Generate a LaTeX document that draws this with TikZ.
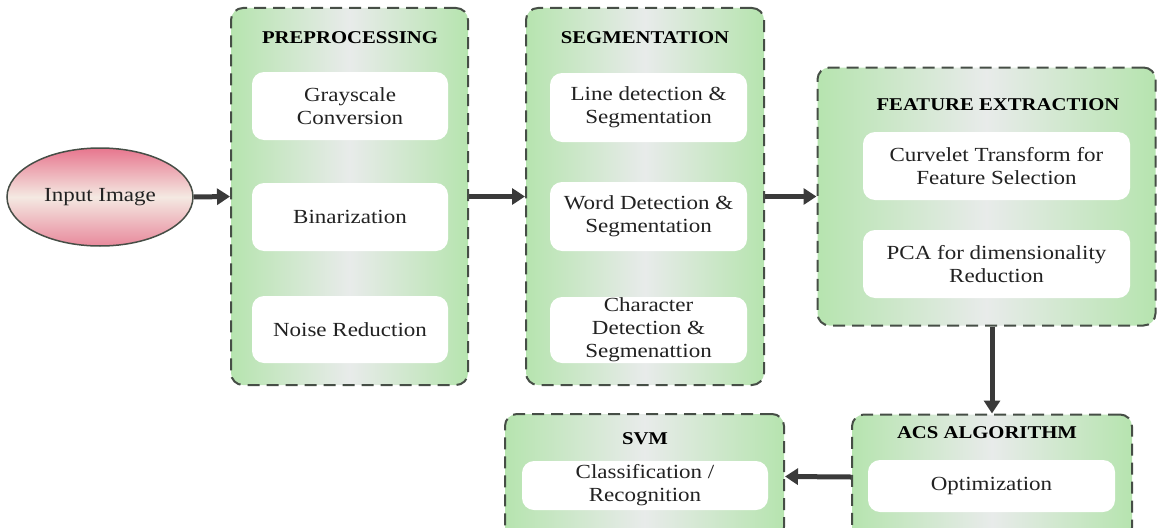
\documentclass[tikz,border=0pt]{standalone}
\usepackage{fontspec}
\setmainfont{Liberation Serif}
\newfontfamily\bodyfont{Liberation Serif}[FakeStretch=1.15]
\usetikzlibrary{arrows.meta,shapes.geometric}
\definecolor{gedge}{HTML}{B6E4AF}
\definecolor{gmid}{HTML}{E8EBEA}
\definecolor{bord}{HTML}{464E46}
\definecolor{arr}{HTML}{3A3A3A}
\definecolor{txt}{HTML}{222222}
\definecolor{pinktop}{HTML}{E7768E}
\definecolor{pinkmid}{HTML}{F4E9E2}
\definecolor{pinkbot}{HTML}{E8899C}
\tikzset{
  stage/.style={draw=bord, line width=2pt, dash pattern=on 12pt off 7pt,
    rounded corners=12pt, left color=gedge, right color=gedge, middle color=gmid,
    minimum width=#1, inner sep=0pt},
  sub/.style={fill=white, draw=none, rounded corners=12pt, minimum width=#1,
    align=center, inner sep=0pt, text=txt,
    font=\bodyfont\fontsize{20}{23}\selectfont},
  ttl/.style={font=\bodyfont\fontsize{18}{20}\selectfont\bfseries, text=black},
  conn/.style={draw=arr, line width=5pt, -{Triangle[length=13pt,width=16pt]}},
}
\begin{document}
\begin{tikzpicture}[x=1pt,y=-1pt]
\useasboundingbox (0,0) rectangle (1158,527);
\clip (0,0) rectangle (1158,527);
% outer stages
\node[stage=237pt, minimum height=377pt] (pre) at (349.5,196.5) {};
\node[stage=238pt, minimum height=377pt] (seg) at (645,196.5) {};
\node[stage=338pt, minimum height=258pt] (fe) at (986.5,196.5) {};
\node[stage=279pt, minimum height=125pt] (svm) at (644.5,476.5) {};
\node[stage=280pt, minimum height=125pt] (acs) at (992,477) {};
% titles
\node[ttl] (tpre) at (350,38) {PREPROCESSING};
\node[ttl] (tseg) at (645,38) {SEGMENTATION};
\node[ttl] (tfe) at (998,105) {FEATURE EXTRACTION};
\node[ttl] (tsvm) at (645,439) {SVM};
\node[ttl] (tacs) at (987,433) {ACS ALGORITHM};
% sub boxes
\node[sub=196pt, minimum height=68pt] (gray) at (350,106) {Grayscale\\Conversion};
\node[sub=196pt, minimum height=68pt] (bin) at (350,217) {Binarization};
\node[sub=196pt, minimum height=67pt] (noise) at (350,329.5) {Noise Reduction};
\node[sub=197pt, minimum height=69pt] (line) at (648.5,107.5) {Line detection \&\\Segmentation};
\node[sub=197pt, minimum height=69pt] (word) at (648.5,216.5) {Word Detection \&\\Segmentation};
\node[sub=197pt, minimum height=66pt] (char) at (648.5,330) {Character\\Detection \&\\Segmenattion};
\node[sub=267pt, minimum height=68pt] (curv) at (996.5,166) {Curvelet Transform for\\Feature Selection};
\node[sub=267pt, minimum height=68pt] (pca) at (996.5,264) {PCA for dimensionality\\Reduction};
\node[sub=246pt, minimum height=49pt] (cls) at (645,485.5) {Classification /\\Recognition};
\node[sub=247pt, minimum height=52pt] (opt) at (991.5,486) {Optimization};
% input ellipse
\node[ellipse, draw=bord, line width=1.5pt, top color=pinktop, bottom color=pinkbot,
  middle color=pinkmid, minimum width=186pt, minimum height=98pt, inner sep=0pt,
  text=txt, font=\bodyfont\fontsize{20}{23}\selectfont] (in) at (100,197) {Input Image};
% connectors
\draw[conn] (in.east) -- (pre.west);
\draw[conn] (pre.east) -- (seg.west);
\draw[conn] (seg.east) -- (fe.west);
\draw[conn] (fe.south -| acs.north) -- (acs.north);
\draw[conn] (acs.west) -- (svm.east);
\end{tikzpicture}
\end{document}
